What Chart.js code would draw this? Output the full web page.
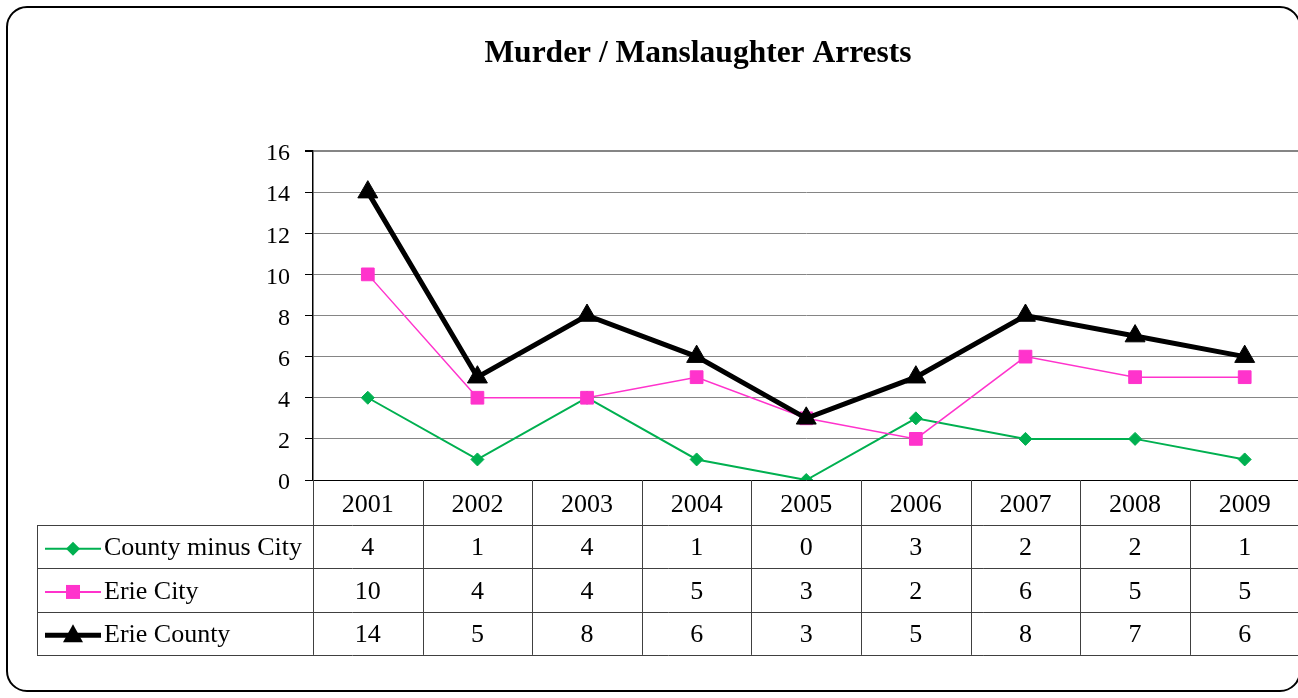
<!DOCTYPE html>
<html lang="en">
<head>
  <meta charset="UTF-8" />
  <title>Murder / Manslaughter Arrests</title>
  <script src="https://cdn.jsdelivr.net/npm/chart.js"></script>
  <style>
    body {
      margin: 0;
      background: white;
      overflow: hidden;
    }
    #wrap {
      width: 1312px;
      height: 698px;
    }
  </style>
</head>
<body>
  <div id="wrap">
    <canvas id="arrestsChart" width="1312" height="698"></canvas>
  </div>

  <script>
    const chartTitle = "Murder / Manslaughter Arrests";
    const years = ["2001", "2002", "2003", "2004", "2005", "2006", "2007", "2008", "2009"];
    const countyMinusCity = [4, 1, 4, 1, 0, 3, 2, 2, 1];
    const erieCity = [10, 4, 4, 5, 3, 2, 6, 5, 5];
    const erieCounty = [14, 5, 8, 6, 3, 5, 8, 7, 6];
    const yTicks = [0, 2, 4, 6, 8, 10, 12, 14, 16];

    const serif = "'Liberation Serif', 'DejaVu Serif', serif";

    // title, table under the plot, rounded frame
    const tablePlugin = {
      id: 'dataTable',
      afterDraw(chart) {
        const ctx = chart.ctx;
        const area = chart.chartArea;
        const xs = chart.scales.x;
        const top = area.bottom;
        const headBottom = top + 45;
        const rowH = 43.3;
        const tableLeft = 37;
        const tableBottom = headBottom + rowH * 3;
        const colW = xs.getPixelForValue(1) - xs.getPixelForValue(0);

        ctx.save();
        // title (centred on the full chart, which runs past the window)
        ctx.font = 'bold 31.5px ' + serif;
        ctx.fillStyle = '#000';
        ctx.textAlign = 'center';
        ctx.textBaseline = 'middle';
        ctx.fillText(chartTitle, 698, 54);

        ctx.strokeStyle = '#404040';
        ctx.lineWidth = 1;
        ctx.beginPath();
        // column lines
        for (let i = 0; i <= years.length; i++) {
          const x = Math.round(area.left + i * colW) + 0.5;
          ctx.moveTo(x, top);
          ctx.lineTo(x, tableBottom);
        }
        ctx.moveTo(tableLeft + 0.5, headBottom);
        ctx.lineTo(tableLeft + 0.5, tableBottom);
        // row lines
        for (let r = 0; r <= 3; r++) {
          const y = Math.round(headBottom + r * rowH) + 0.5;
          ctx.moveTo(tableLeft, y);
          ctx.lineTo(area.right, y);
        }
        ctx.stroke();

        ctx.font = '26px ' + serif;
        ctx.fillStyle = '#000';
        ctx.textBaseline = 'middle';
        chart.data.datasets.forEach((ds, r) => {
          const cy = headBottom + rowH * r + rowH / 2 + 1;
          const ky = cy + 1;
          // legend key
          ctx.strokeStyle = ds.borderColor;
          ctx.lineWidth = ds.keyWidth;
          ctx.beginPath();
          ctx.moveTo(45, ky);
          ctx.lineTo(101, ky);
          ctx.stroke();
          ctx.fillStyle = ds.borderColor;
          ctx.beginPath();
          if (ds.pointStyle === 'rectRot') {
            ctx.moveTo(73, ky - 7); ctx.lineTo(80, ky); ctx.lineTo(73, ky + 7); ctx.lineTo(66, ky);
          } else if (ds.pointStyle === 'rect') {
            ctx.rect(66, ky - 7, 14, 14);
          } else {
            ctx.moveTo(73, ky - 11); ctx.lineTo(83, ky + 7); ctx.lineTo(63, ky + 7);
          }
          ctx.closePath();
          ctx.fill();
          ctx.fillStyle = '#000';
          ctx.textAlign = 'left';
          ctx.fillText(ds.label, 104, cy + 1);
          ctx.textAlign = 'center';
          ds.data.forEach((v, i) => {
            ctx.fillText(String(v), xs.getPixelForValue(i), cy + 1);
          });
        });

        // outer rounded frame
        ctx.strokeStyle = '#000';
        ctx.lineWidth = 2;
        ctx.beginPath();
        ctx.roundRect(7, 7, 1293, 684, 20);
        ctx.stroke();
        ctx.restore();
      }
    };

    new Chart(document.getElementById('arrestsChart'), {
      type: 'line',
      data: {
        labels: years,
        datasets: [
          {
            label: 'County minus City',
            data: countyMinusCity,
            borderColor: '#00B050',
            backgroundColor: '#00B050',
            borderWidth: 2,
            keyWidth: 2,
            pointStyle: 'rectRot',
            pointRadius: 6.5,
            pointBorderWidth: 1,
            order: 2,
            tension: 0
          },
          {
            label: 'Erie City',
            data: erieCity,
            borderColor: '#FF33CC',
            backgroundColor: '#FF33CC',
            borderWidth: 1.5,
            keyWidth: 2,
            pointStyle: 'rect',
            pointRadius: 9,
            pointBorderWidth: 1,
            order: 1,
            tension: 0
          },
          {
            label: 'Erie County',
            data: erieCounty,
            borderColor: '#000000',
            backgroundColor: '#000000',
            borderWidth: 5,
            keyWidth: 5,
            pointStyle: 'triangle',
            pointRadius: 11.5,
            pointBorderWidth: 1,
            order: 0,
            tension: 0
          }
        ]
      },
      options: {
        responsive: false,
        animation: false,
        layout: { padding: { left: 0, right: 4, top: 151, bottom: 173 } },
        plugins: {
          legend: { display: false },
          tooltip: { enabled: false },
          title: { display: false }
        },
        scales: {
          x: {
            offset: true,
            grid: { display: false, drawTicks: false },
            border: { display: true, color: '#000', width: 1 },
            ticks: {
              color: '#000',
              font: { family: serif, size: 26 },
              padding: 10,
              maxRotation: 0
            },
            afterFit(scale) { scale.height = 45; }
          },
          y: {
            min: 0,
            max: 16,
            afterBuildTicks(scale) { scale.ticks = yTicks.map(v => ({ value: v })); },
            grid: {
              color: '#858585',
              lineWidth: c => (c.tick && c.tick.value === 16 ? 2 : 1),
              tickColor: '#000',
              tickLength: 8
            },
            border: { display: true, color: '#000', width: 1.5 },
            ticks: {
              color: '#000',
              font: { family: serif, size: 24 },
              padding: 15,
              labelOffset: 3
            },
            afterFit(scale) { scale.width = 313; }
          }
        }
      },
      plugins: [tablePlugin]
    });
  </script>
</body>
</html>
